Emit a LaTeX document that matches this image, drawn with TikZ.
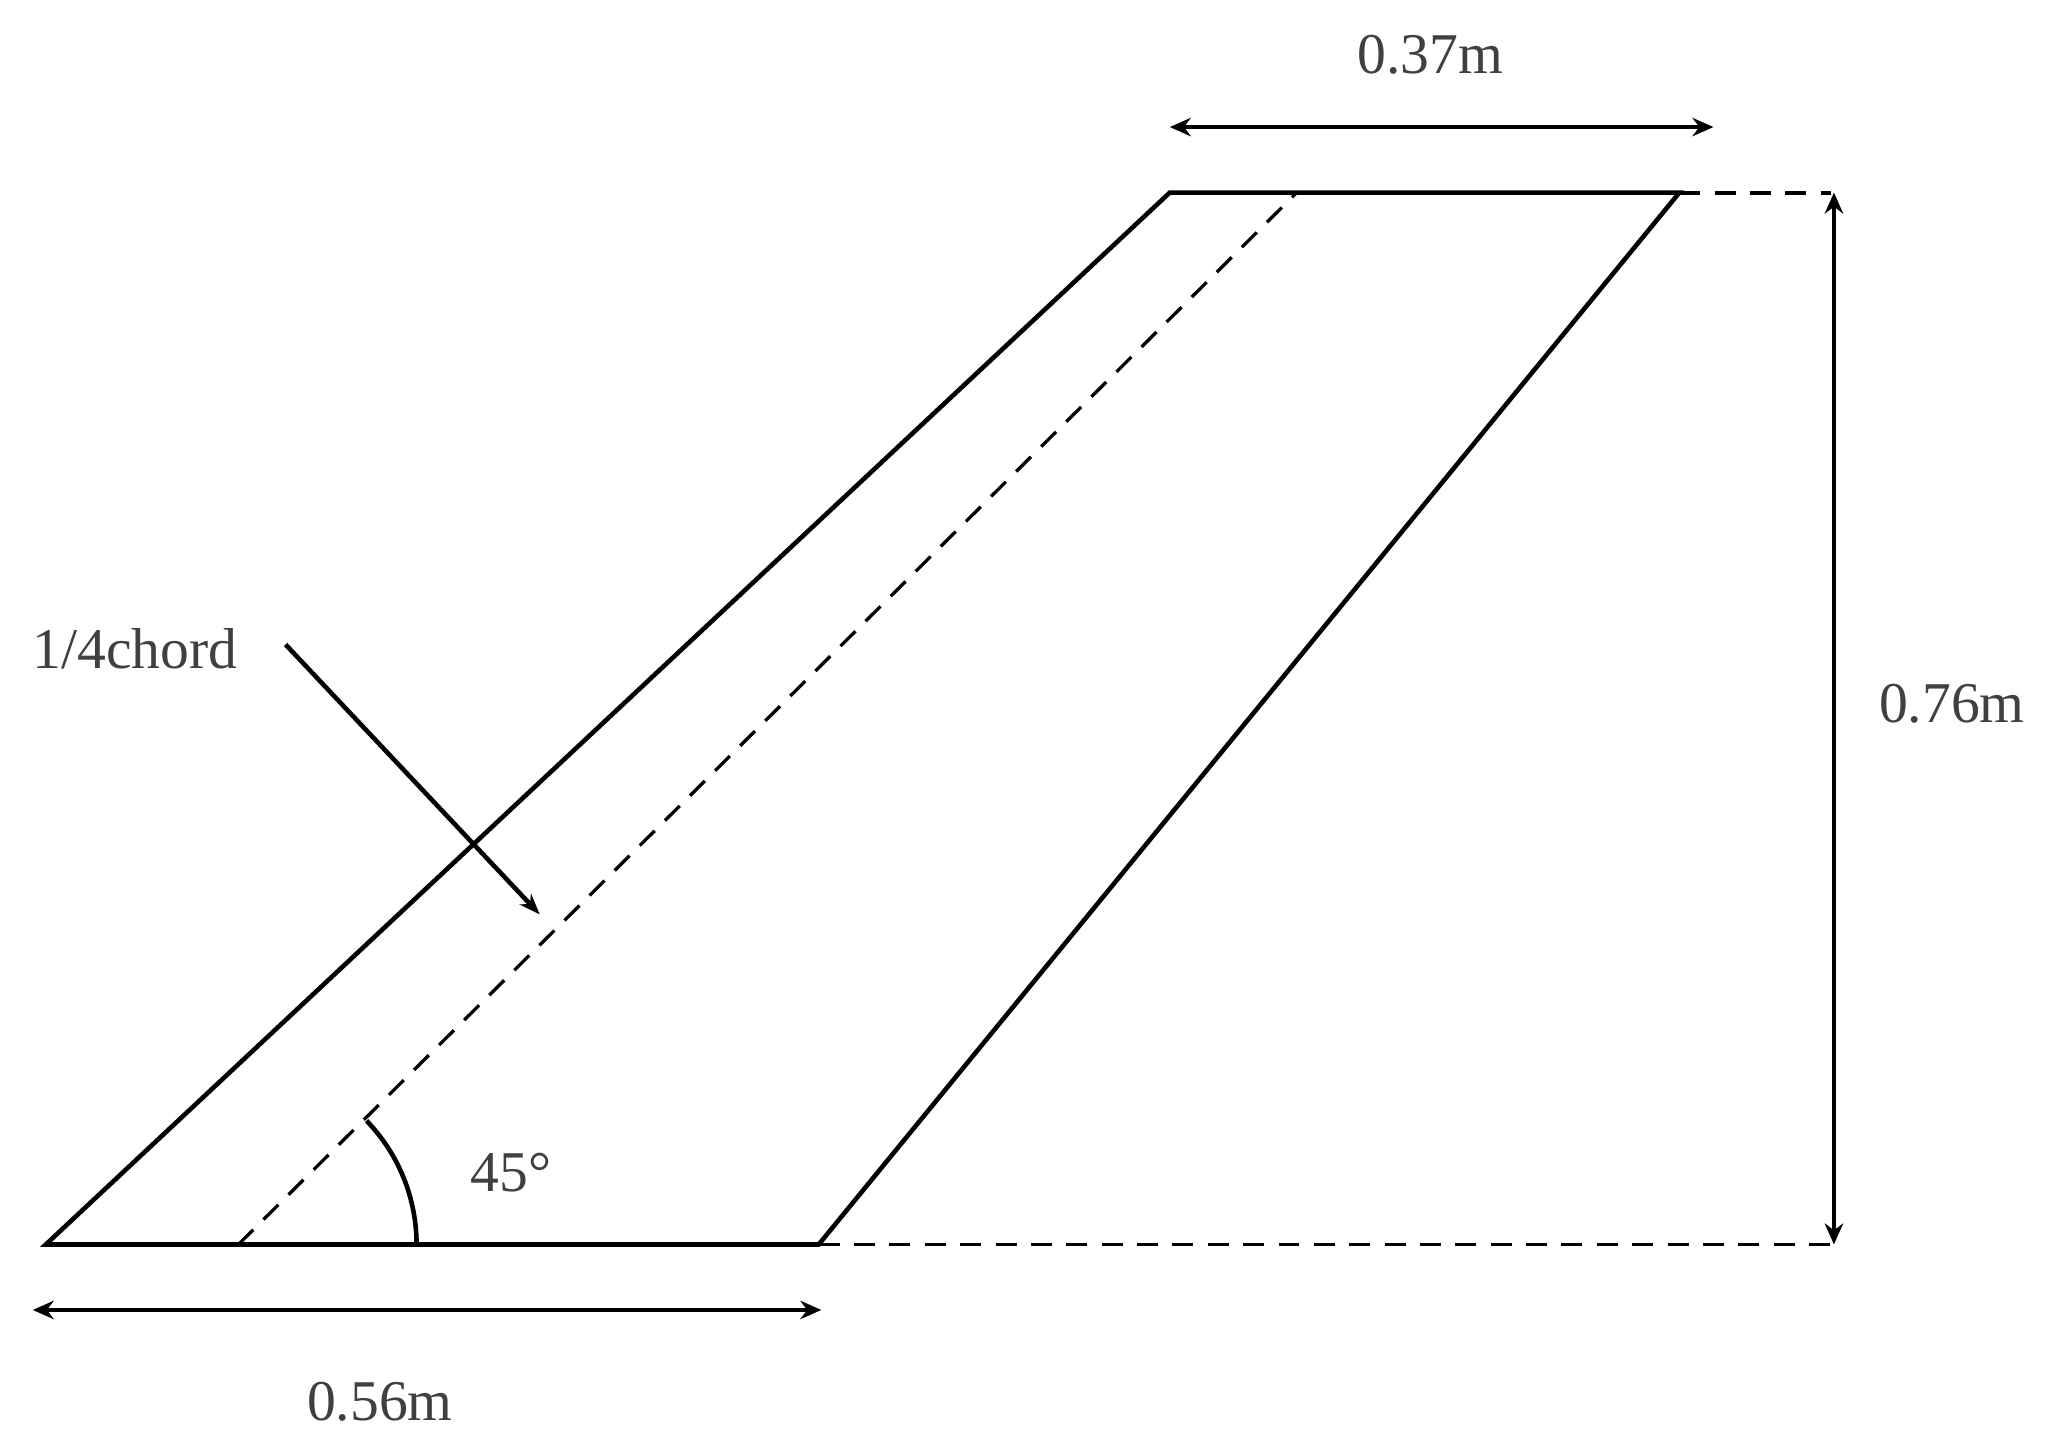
\documentclass[tikz,border=0pt]{standalone}
\usepackage{fontspec}
\setmainfont{Liberation Serif}
\usetikzlibrary{arrows.meta}
\begin{document}
\begin{tikzpicture}[x=1pt,y=-1pt,
  edge/.style={line width=3.5pt,black},
  dline/.style={line width=2.5pt,dash pattern=on 16pt off 11pt},
  dim/.style={line width=3.5pt,{Stealth[length=16pt,width=14pt]}-{Stealth[length=16pt,width=14pt]}},
  lbl/.style={font=\fontsize{44}{48}\selectfont,text=black!75}]
\useasboundingbox (0,0) rectangle (1568,1101);
\coordinate (A) at (35,950);
\coordinate (B) at (625,950);
\coordinate (C) at (1282,147);
\coordinate (D) at (893,147);
\coordinate (Q1) at (182,950);
\coordinate (Q2) at (990,147);
\draw[edge] (A) -- (B) -- (C) -- (D) -- cycle;
\draw[dline] (Q1) -- (Q2);
\coordinate (R1) at (1398,147);
\coordinate (R2) at (1398,950);
\draw[dline,line width=3pt] (C) -- (R1);
\draw[dline,line width=3pt] (B) -- (R2);
\coordinate (V1) at (1400,147);
\coordinate (V2) at (1400,950);
\draw[dim] (V1) -- (V2);
\coordinate (T1) at (893,97);
\coordinate (T2) at (1308,97);
\draw[dim] (T1) -- (T2);
\coordinate (L1) at (25,1000);
\coordinate (L2) at (627,1000);
\draw[dim] (L1) -- (L2);
\node[lbl] (t37) at (1092,42) {0.37m};
\node[lbl] (t56) at (290,1070) {0.56m};
\node[lbl] (t76) at (1490,537) {0.76m};
\node[lbl] (tq) at (103,495) {1/4chord};
\node[lbl] (t45) at (390,895) {45°};
\coordinate (P1) at (218,492);
\coordinate (P2) at (412,698);
\draw[line width=3.5pt,-{Stealth[length=16pt,width=12pt]}] (P1) -- (P2);
\draw[line width=3.5pt] (318,950) arc[start angle=0,end angle=-44,radius=136];
\end{tikzpicture}
\end{document}
